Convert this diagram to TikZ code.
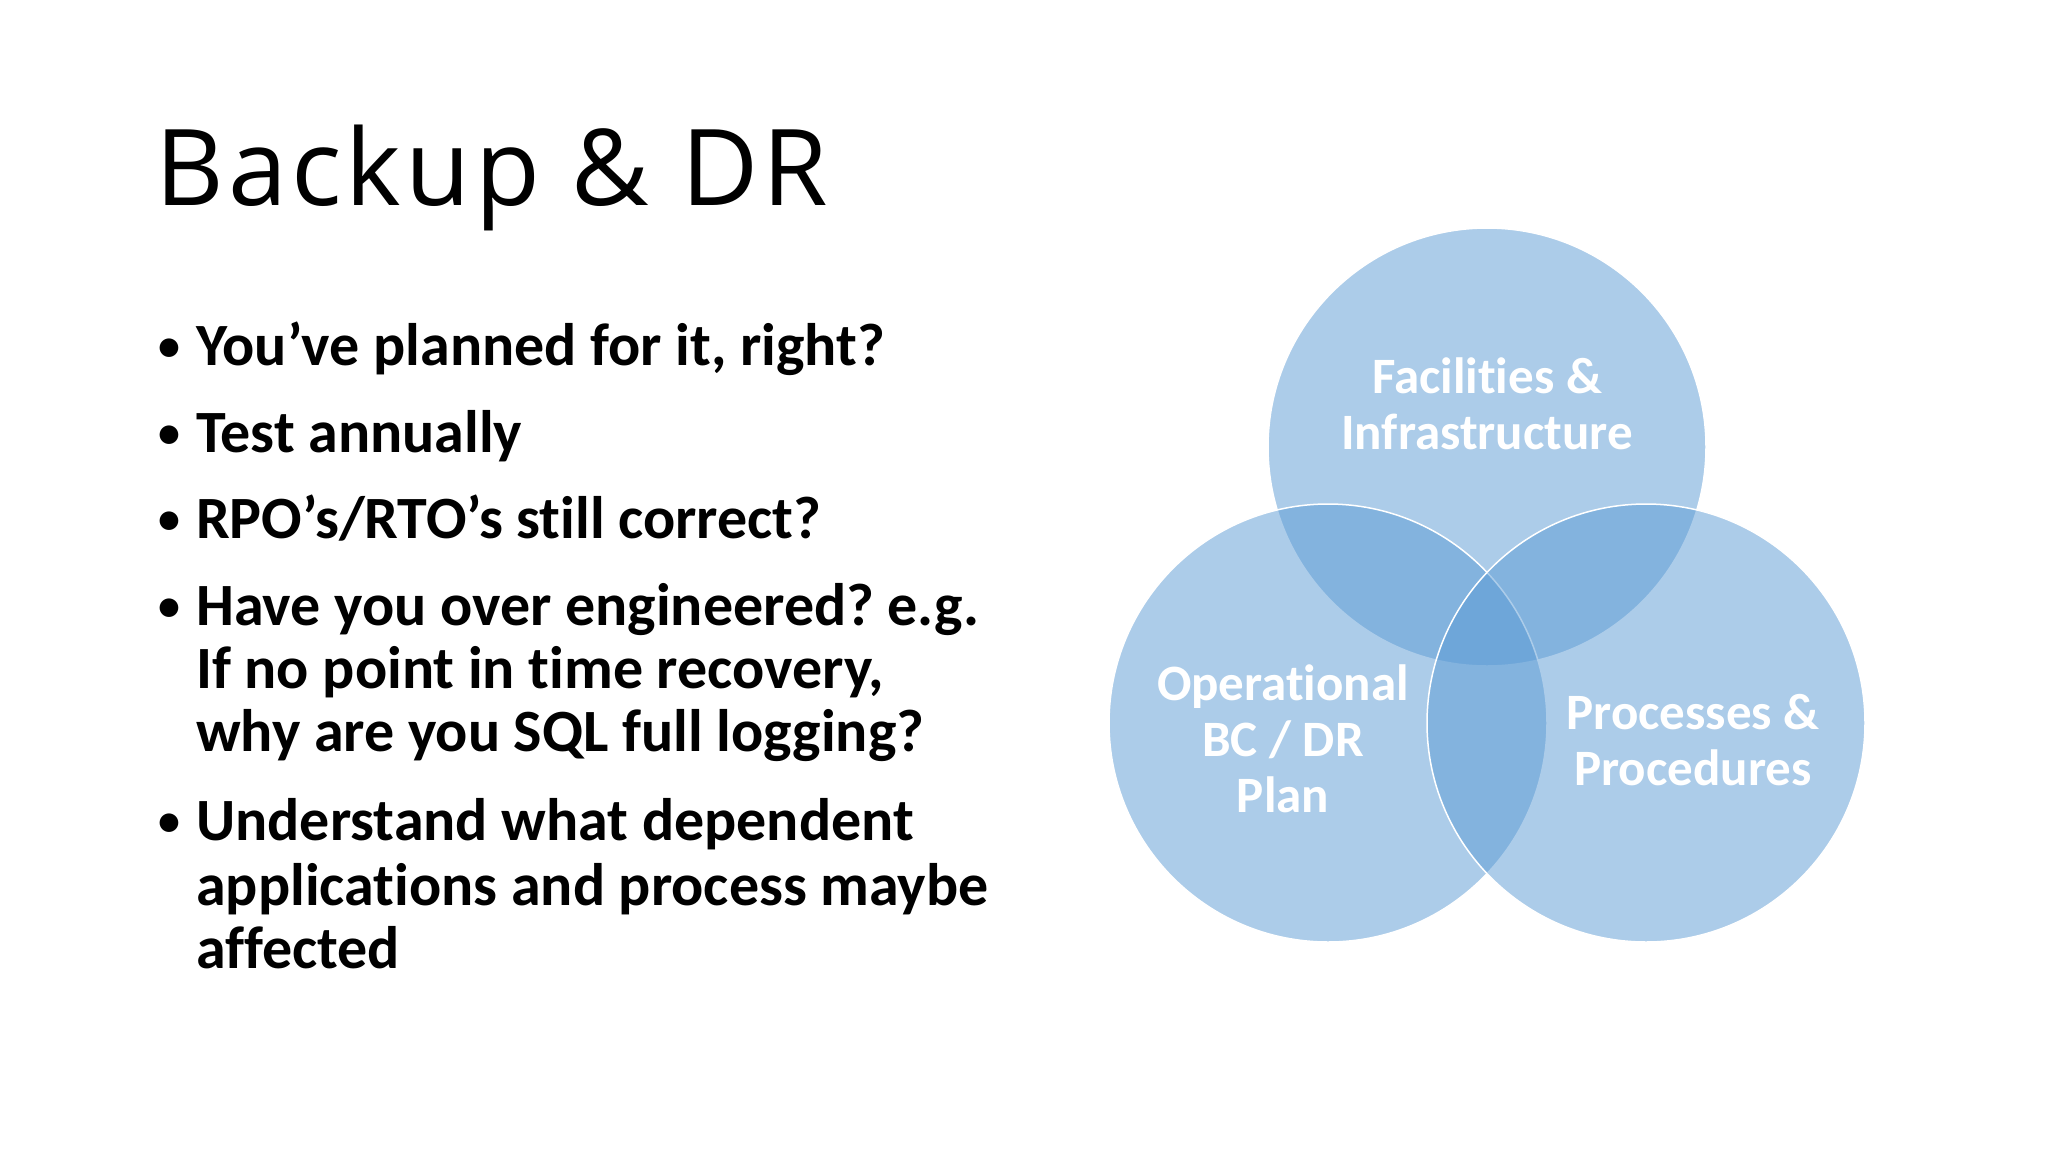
\documentclass[tikz,border=0pt]{standalone}
\usepackage{fontspec}
\setmainfont[Ligatures={NoCommon}]{Carlito}
\newfontfamily\titlefont[LetterSpace=4]{Open Sans}
\definecolor{vblue}{HTML}{5B9BD5}
\frenchspacing
\begin{document}
\begin{tikzpicture}[x=1pt,y=-1pt,
  vc/.style={circle,minimum size=438pt,inner sep=0pt,fill=vblue,fill opacity=0.5,draw=white,draw opacity=1,line width=1.5pt},
  bl/.style={anchor=base west,inner sep=0pt,font=\fontsize{60}{70}\selectfont\bfseries},
  bu/.style={anchor=base west,inner sep=0pt,font=\fontsize{44}{50}\selectfont\bfseries},
  lab/.style={align=center,text=white,font=\fontsize{51}{56}\selectfont\bfseries}]
\useasboundingbox (0,0) rectangle (2048,1152);
\fill[white] (0,0) rectangle (2048,1152);
\node[anchor=base west,inner sep=0pt,font=\titlefont\fontsize{106}{120}\selectfont] (title) at (155,205) {Backup \& DR};
\node[bu] (b1) at (158,360) {•};
\node[bl] (t1) at (196,365) {You’ve planned for it, right?};
\node[bu] (b2) at (158,447) {•};
\node[bl] (t2) at (196,452) {Test annually};
\node[bu] (b3) at (158,533) {•};
\node[bl] (t3) at (196,538) {RPO’s/RTO’s still correct?};
\node[bu] (b4) at (158,620) {•};
\node[bl] (t4a) at (196,625) {Have you over engineered? e.g.};
\node[bl] (t4b) at (196,688) {If no point in time recovery,};
\node[bl] (t4c) at (196,751) {why are you SQL full logging?};
\node[bu] (b5) at (158,835) {•};
\node[bl] (t5a) at (196,840) {Understand what dependent};
\node[bl] (t5b) at (196,905) {applications and process maybe};
\node[bl] (t5c) at (196,968) {affected};
\node[vc] (top) at (1487,447) {};
\node[vc] (left) at (1328,723) {};
\node[vc] (right) at (1646,723) {};
\node[lab] (ltop) at (1487,404) {Facilities \&\\Infrastructure};
\node[lab] (lleft) at (1283,739) {Operational\\BC / DR\\Plan};
\node[lab] (lright) at (1693,740) {Processes \&\\Procedures};
\end{tikzpicture}
\end{document}
